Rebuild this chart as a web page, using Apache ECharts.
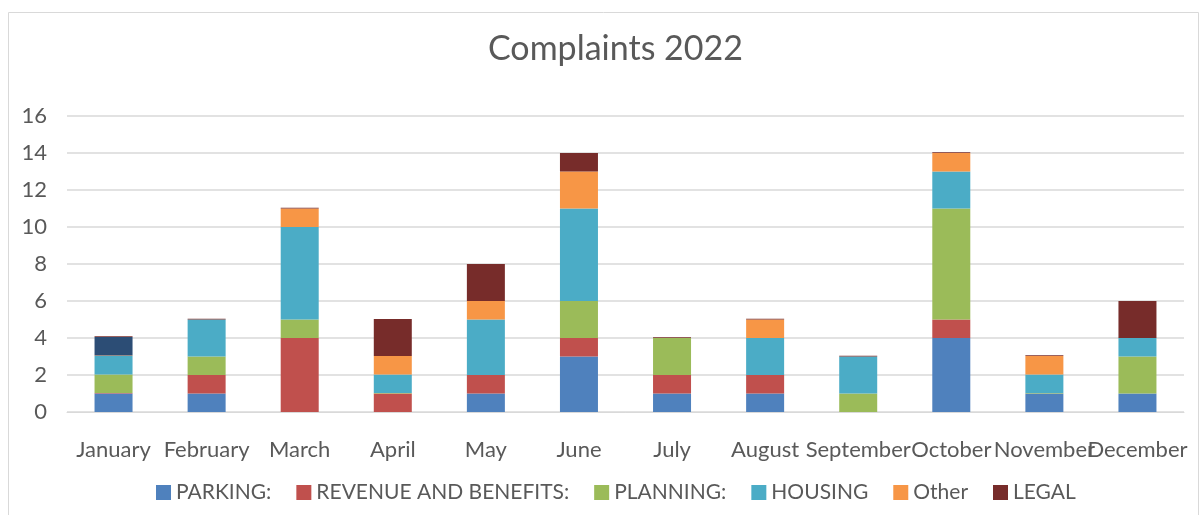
<!DOCTYPE html>
<html>
<head>
<meta charset="utf-8">
<script src="https://cdn.jsdelivr.net/npm/echarts@6/dist/echarts.min.js"></script>
<style>
  html, body { margin: 0; padding: 0; background: #fff; }
  #chart { width: 1200px; height: 515px; }
</style>
</head>
<body>
<div id="chart"></div>
<script>
const months = ['January', 'February', 'March', 'April', 'May', 'June', 'July', 'August', 'September', 'October', 'November', 'December']

// thin slivers in the picture are kept as tiny values
const parking = [1, 1, 0, 0, 1, 3, 1, 1, 0, 4, 1, 1]
const revenue = [0.03, 1, 4, 1, 1, 1, 1, 1, 0, 1, 0, 0]
const planning = [1, 1, 1, 0.03, 0, 2, 2, 0, 1, 6, 0.03, 2]
const housing = [1, 2, 5, 1, 3, 5, 0, 2, 2, 2, 1, 1]
const other = [0.03, 0, 1, 1, 1, 2, 0, 1, 0, 1, 1, 0]
const unlabelled = [1, 0, 0, 0, 0, 0, 0, 0, 0, 0, 0, 0]
const legal = [0.04, 0.04, 0.04, 2, 2, 1, 0.04, 0.04, 0.04, 0.04, 0.04, 2]

const yTicks = { min: 0, max: 16, interval: 2 }

const font = 'Lato, "Liberation Sans", sans-serif'
const textColor = '#595959'
const gridColor = '#D9D9D9'

function bar(name, data, color) {
  return {
    name: name,
    type: 'bar',
    stack: 'total',
    barWidth: 38,
    itemStyle: { color: color },
    emphasis: { disabled: true },
    data: data
  }
}

const chart = echarts.init(document.getElementById('chart'))
chart.setOption({
  animation: false,
  textStyle: { fontFamily: font },
  graphic: [{
    type: 'rect',
    shape: { x: 8.5, y: 12.5, width: 1190, height: 520 },
    style: { fill: 'none', stroke: gridColor, lineWidth: 1 },
    silent: true
  }],
  title: {
    text: 'Complaints 2022',
    left: 483,
    top: 27,
    textStyle: { fontFamily: font, fontSize: 34, fontWeight: 'normal', color: textColor }
  },
  legend: {
    data: ['PARKING:', 'REVENUE AND BENEFITS:', 'PLANNING:', 'HOUSING', 'Other', 'LEGAL'],
    bottom: 7,
    left: 151,
    icon: 'rect',
    itemWidth: 15,
    itemHeight: 15,
    itemGap: 25,
    textStyle: { fontFamily: font, fontSize: 21, color: textColor }
  },
  grid: { left: 67, right: 16, top: 116, bottom: 103 },
  xAxis: {
    type: 'category',
    data: months,
    axisLine: { lineStyle: { color: gridColor } },
    axisTick: { show: false },
    axisLabel: { color: textColor, fontSize: 22, margin: 27, interval: 0, fontFamily: font }
  },
  yAxis: {
    type: 'value',
    min: yTicks.min,
    max: yTicks.max,
    interval: yTicks.interval,
    axisLine: { show: false },
    axisTick: { show: false },
    axisLabel: { color: textColor, fontSize: 22, margin: 20, fontFamily: font },
    splitLine: { lineStyle: { color: gridColor, width: 1.5 } }
  },
  series: [
    bar('PARKING:', parking, '#4F81BD'),
    bar('REVENUE AND BENEFITS:', revenue, '#C0504D'),
    bar('PLANNING:', planning, '#9BBB59'),
    bar('HOUSING', housing, '#4BACC6'),
    bar('Other', other, '#F79646'),
    bar('', unlabelled, '#2C4D75'),
    bar('LEGAL', legal, '#772C2A')
  ]
})
</script>
</body>
</html>
